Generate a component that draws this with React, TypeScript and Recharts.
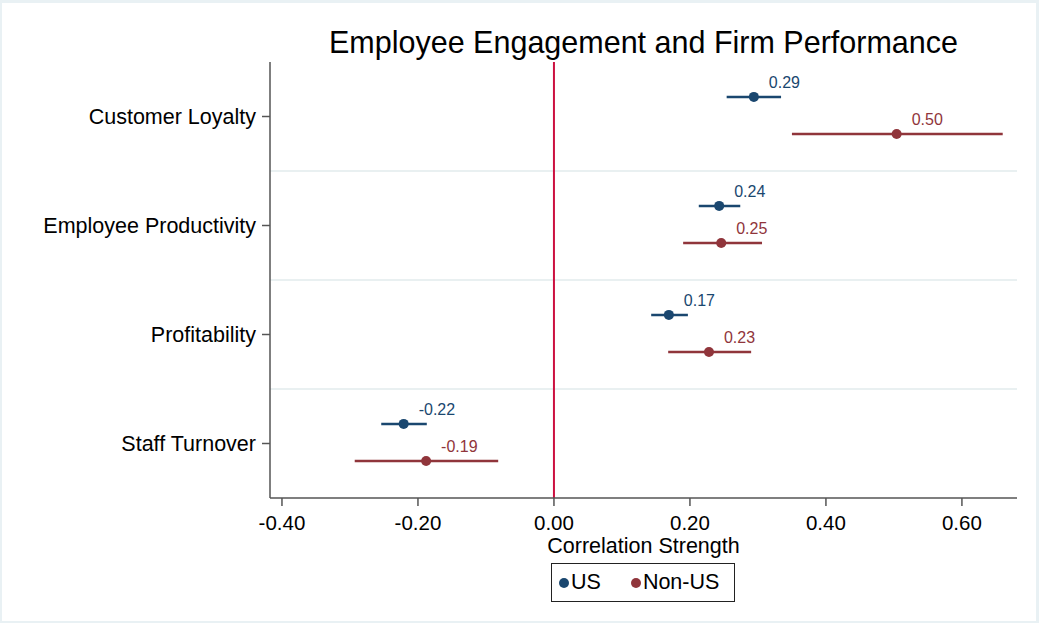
import { ScatterChart, Scatter, XAxis, YAxis, ErrorBar, ReferenceLine } from 'recharts'

const categories = ['Customer Loyalty', 'Employee Productivity', 'Profitability', 'Staff Turnover']

const usEstimate = [0.294, 0.243, 0.169, -0.221]
const usLow = [0.254, 0.213, 0.143, -0.254]
const usHigh = [0.334, 0.274, 0.197, -0.187]

const nonUsEstimate = [0.504, 0.246, 0.228, -0.188]
const nonUsLow = [0.35, 0.19, 0.168, -0.293]
const nonUsHigh = [0.66, 0.306, 0.29, -0.082]

const xTicks = [-0.4, -0.2, 0, 0.2, 0.4, 0.6]

const US_COLOR = '#1a476f'
const NONUS_COLOR = '#90353b'
const FONT = '"Liberation Sans", Arial, sans-serif'

// row offsets inside each category band
const US_OFFSET = -0.18
const NONUS_OFFSET = 0.16

const build = (est: number[], lo: number[], hi: number[], off: number) =>
  categories.map((name, i) => ({
    name,
    x: est[i],
    y: i + 0.5 + off,
    err: [est[i] - lo[i], hi[i] - est[i]],
  }))

const usData = build(usEstimate, usLow, usHigh, US_OFFSET)
const nonUsData = build(nonUsEstimate, nonUsLow, nonUsHigh, NONUS_OFFSET)

const makeShape = (color: string) => (p: any) => (
  <g>
    <circle cx={p.cx} cy={p.cy} r={5} fill={color} />
    <text x={p.cx + 15} y={p.cy - 9} fill={color} fontSize={16} fontFamily={FONT}>
      {p.payload.x.toFixed(2)}
    </text>
  </g>
)

function LegendBox() {
  return (
    <div
      style={{
        position: 'absolute',
        left: 551,
        top: 563,
        width: 182,
        height: 37,
        border: '1px solid #222',
        display: 'flex',
        alignItems: 'center',
        fontFamily: FONT,
        fontSize: 21.5,
        color: '#000',
        background: '#fff',
      }}
    >
      <span style={{ display: 'inline-block', width: 10, height: 10, borderRadius: 5, background: US_COLOR, marginLeft: 7, marginRight: 2 }} />
      <span>US</span>
      <span style={{ display: 'inline-block', width: 10, height: 10, borderRadius: 5, background: NONUS_COLOR, marginLeft: 30, marginRight: 2 }} />
      <span>Non-US</span>
    </div>
  )
}

export default function App() {
  return (
    <div style={{ position: 'fixed', left: 0, top: 0, width: 1039, height: 623, background: '#e9f1f4' }}>
      <div style={{ position: 'absolute', left: 2, top: 3, width: 1034, height: 618, background: '#fff' }} />
      <div
        style={{
          position: 'absolute',
          left: 270,
          width: 747,
          top: 24,
          textAlign: 'center',
          fontFamily: FONT,
          fontSize: 30.5,
          lineHeight: '36px',
          color: '#000',
        }}
      >
        Employee Engagement and Firm Performance
      </div>
      <div style={{ position: 'absolute', left: 0, top: 0 }}>
        <ScatterChart width={1039} height={623} margin={{ top: 62, right: 22, bottom: 80, left: 0 }}>
          {[1, 2, 3].map((v) => (
            <ReferenceLine key={v} y={v} stroke="#e2ebed" strokeWidth={1.5} />
          ))}
          <ReferenceLine x={0} stroke="#cc1040" strokeWidth={2} />
          <XAxis
            type="number"
            dataKey="x"
            domain={[-0.4176, 0.681]}
            allowDataOverflow
            ticks={xTicks}
            tickFormatter={(v: number) => v.toFixed(2)}
            height={45}
            stroke="#555"
            strokeWidth={1.5}
            tickSize={8}
            tickMargin={9}
            tick={{ fill: '#000', fontSize: 20.5, fontFamily: FONT }}
            label={{ value: 'Correlation Strength', position: 'insideBottom', offset: -10, fill: '#000', fontSize: 21.5, fontFamily: FONT }}
          />
          <YAxis
            type="number"
            dataKey="y"
            domain={[0, 4]}
            reversed
            ticks={[0.5, 1.5, 2.5, 3.5]}
            tickFormatter={(v: number) => categories[Math.floor(v)]}
            width={270}
            stroke="#555"
            strokeWidth={1.5}
            tickSize={8}
            tickMargin={6}
            tick={{ fill: '#000', fontSize: 21.5, fontFamily: FONT }}
          />
          <Scatter name="US" data={usData} fill={US_COLOR} shape={makeShape(US_COLOR)} isAnimationActive={false}>
            <ErrorBar dataKey="err" direction="x" width={0} stroke={US_COLOR} strokeWidth={2.5} />
          </Scatter>
          <Scatter name="Non-US" data={nonUsData} fill={NONUS_COLOR} shape={makeShape(NONUS_COLOR)} isAnimationActive={false}>
            <ErrorBar dataKey="err" direction="x" width={0} stroke={NONUS_COLOR} strokeWidth={2.5} />
          </Scatter>
        </ScatterChart>
      </div>
      <LegendBox />
    </div>
  )
}
